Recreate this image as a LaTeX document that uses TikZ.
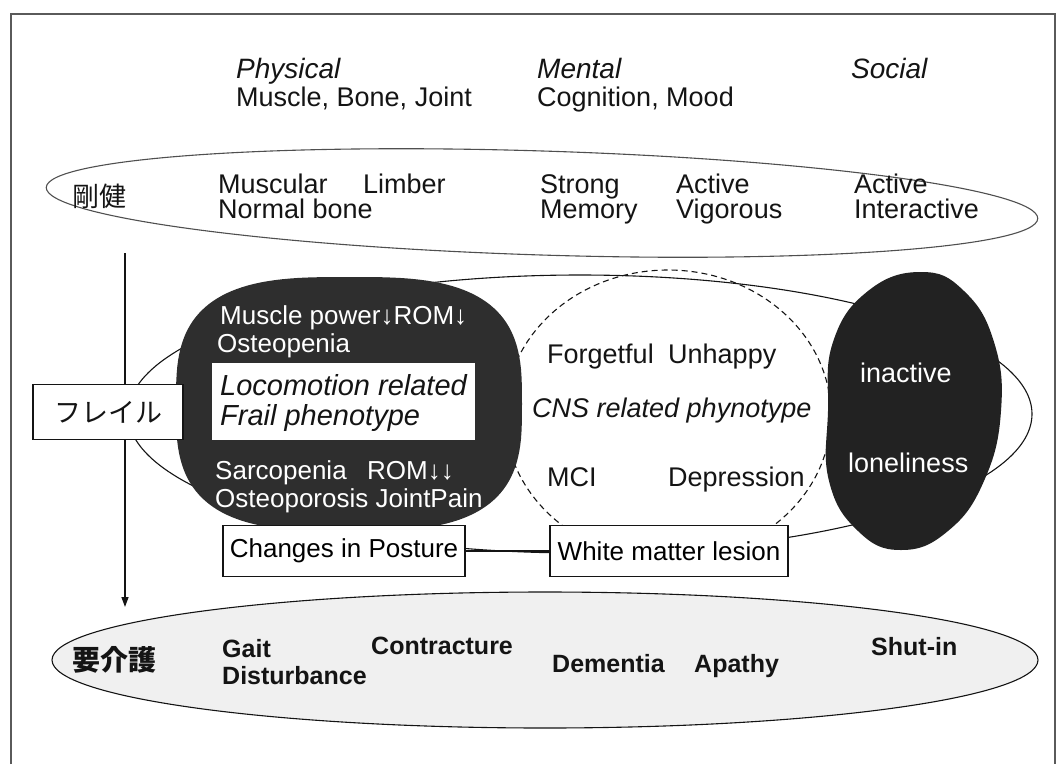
\documentclass[tikz,border=0pt]{standalone}
\usepackage{fontspec}
\setmainfont{Liberation Sans}
\newfontfamily\jpfont{Noto Sans CJK JP}
\usepackage{tikz}
\usetikzlibrary{positioning,arrows.meta,shapes.geometric}
\definecolor{cInk}{HTML}{141414}
\definecolor{cBlob}{HTML}{2E2E2E}
\definecolor{cSoc}{HTML}{222222}
\definecolor{cDots}{HTML}{F0F0F0}
\definecolor{cFrame}{HTML}{5A5A5A}
\tikzset{
  txt/.style={anchor=base west, inner sep=0pt, text=cInk, font=\fontsize{27}{29}\selectfont},
  head/.style={txt, font=\fontsize{28}{30}\selectfont\itshape},
  wtxt/.style={txt, text=white, font=\fontsize{26}{28}\selectfont},
  btxt/.style={txt, font=\fontsize{25}{27}\selectfont\bfseries},
  jp/.style={inner sep=0pt, text=cInk, font=\fontsize{27}{29}\selectfont\jpfont},
  tagbox/.style={draw=cInk, line width=1.2pt, fill=white, inner sep=4pt,
                 font=\fontsize{26}{28}\selectfont},
  ring/.style={draw=cInk, line width=1.1pt},
  dsh/.style={ring, dash pattern=on 6pt off 4pt},
  ar/.style={-{Triangle[length=10pt,width=7pt]}, cInk, line width=1.3pt}
}

\begin{document}
\begin{tikzpicture}[x=1pt, y=-1pt]
\useasboundingbox (0,0) rectangle (1060,764);
% frame, open at the bottom
\draw[cFrame, line width=1.3pt] (11,764) -- (11,14) -- (1055,14) -- (1055,764);

% outlines
\draw[ring, draw=cInk!75, rotate around={-1.8:(542,203)}] (542,203) ellipse [x radius=496, y radius=52];
\draw[ring] (580,414) ellipse [x radius=452, y radius=139];
\draw[dsh] (668,415) ellipse [x radius=163, y radius=145];
\draw[ring, fill=cDots] (545,660) ellipse [x radius=493, y radius=68];
\coordinate (arrS) at (125,253);
\coordinate (arrE) at (125,607);
\draw[ar] (arrS) -- (arrE);

% blobs
\fill[cBlob] plot[domain=0:360, samples=144, variable=\t]
  ({349+173*sign(cos(\t))*(abs(cos(\t))+0.00001)^0.65}, {404+127*sign(sin(\t))*(abs(sin(\t))+0.00001)^0.65}) -- cycle;
\fill[cSoc] plot[smooth cycle, tension=0.75] coordinates {(921,272) (964,291) (994,342) (1001,411)
  (984,481) (948,531) (901,550) (858,531) (829,481) (828,411) (833,342) (868,291)};

% headings
\node[head] (phys) at (236,78) {Physical};
\node[txt] (physsub) at (236,106) {Muscle, Bone, Joint};
\node[head] (ment) at (537,78) {Mental};
\node[txt] (mentsub) at (537,106) {Cognition, Mood};
\node[head] (soc) at (851,78) {Social};

% robust
\node[jp] (gk) at (99,196) {剛健};
\node[txt] (mus) at (218,193) {Muscular};
\node[txt] (lim) at (363,193) {Limber};
\node[txt] (nb) at (218,218) {Normal bone};
\node[txt] (str) at (540,193) {Strong};
\node[txt] (mem) at (540,218) {Memory};
\node[txt] (act) at (676,193) {Active};
\node[txt] (vig) at (676,218) {Vigorous};
\node[txt] (actb) at (854,193) {Active};
\node[txt] (inter) at (854,218) {Interactive};

% frail
\node[tagbox, minimum width=150, minimum height=55, jp, inner sep=4pt, draw=cInk, fill=white] (frl) at (108,412) {フレイル};
\node[wtxt] (mpw) at (220,324) {Muscle power↓ROM↓};
\node[wtxt] (ost) at (217,352) {Osteopenia};
\node[fill=white, minimum width=263, minimum height=77, inner sep=0pt] (loco) at (343.5,401.5) {};
\node[txt, font=\fontsize{29}{31}\selectfont\itshape] (locoa) at (220,395) {Locomotion related};
\node[txt, font=\fontsize{29}{31}\selectfont\itshape] (locob) at (220,425) {Frail phenotype};
\node[wtxt] (sarc) at (215,479) {Sarcopenia};
\node[wtxt] (romd) at (367,479) {ROM↓↓};
\node[wtxt] (ostp) at (215,507) {Osteoporosis JointPain};

\node[txt] (fgt) at (547,363) {Forgetful};
\node[txt] (unh) at (668,363) {Unhappy};
\node[txt, font=\fontsize{27}{29}\selectfont\itshape] (cns) at (532,417) {CNS related phynotype};
\node[txt] (mci) at (547,486) {MCI};
\node[txt] (dep) at (668,486) {Depression};

\node[wtxt, font=\fontsize{27}{29}\selectfont] (inac) at (860,382) {inactive};
\node[wtxt, font=\fontsize{27}{29}\selectfont] (lone) at (848,472) {loneliness};

\node[tagbox, minimum width=242, minimum height=51] (pos) at (344,551) {Changes in Posture};
\node[tagbox, minimum width=238, minimum height=51] (wml) at (669,551) {White matter lesion};
\draw[cInk, line width=1.1pt] (pos) -- (wml);

% care needed
\node[jp, font=\fontsize{28}{30}\selectfont\jpfont\bfseries] (yk) at (114,660) {要介護};
\node[btxt] (gait) at (222,657) {Gait};
\node[btxt] (dist) at (222,684) {Disturbance};
\node[btxt] (cont) at (371,654) {Contracture};
\node[btxt] (dem) at (552,672) {Dementia};
\node[btxt] (apa) at (694,672) {Apathy};
\node[btxt] (shut) at (871,655) {Shut-in};
\end{tikzpicture}
\end{document}
